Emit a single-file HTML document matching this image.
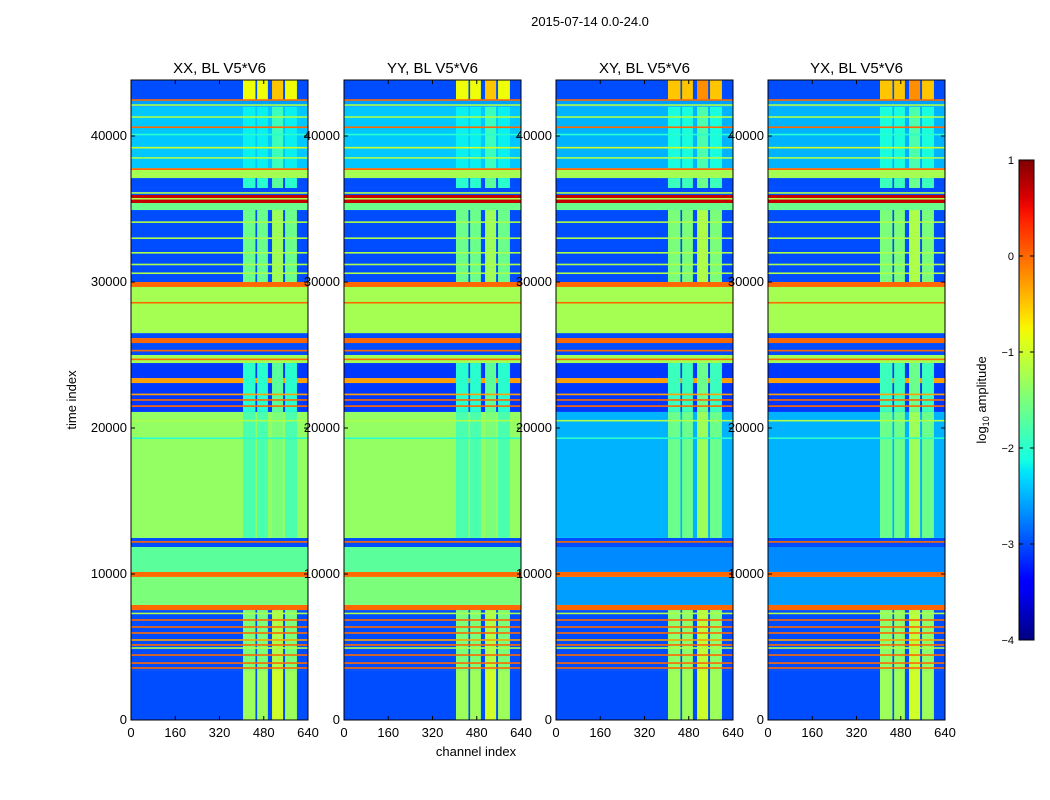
<!DOCTYPE html>
<html><head><meta charset="utf-8">
<style>
body{margin:0;background:#fff;}
svg{display:block;font-family:"Liberation Sans",sans-serif;}
</style></head>
<body>
<svg id="fig" width="1050" height="800" viewBox="0 0 1050 800">
<text x="590" y="26" font-size="13" text-anchor="middle">2015-07-14 0.0-24.0</text>
<text x="476" y="756" font-size="13" text-anchor="middle">channel index</text>
<text x="0" y="0" font-size="13" text-anchor="middle" transform="translate(76,400) rotate(-90)">time index</text>
<g id="panels"></g>
<g id="cbar"></g>
<text x="0" y="0" font-size="13" text-anchor="middle" transform="translate(986,400) rotate(-90)">log<tspan font-size="9" dy="3">10</tspan><tspan dy="-3"> amplitude</tspan></text>
</svg>
<script>
// ---- data ----
const panelTitles = ["XX, BL V5*V6","YY, BL V5*V6","XY, BL V5*V6","YX, BL V5*V6"];
const panelKind = [0,0,1,1]; // 0 = parallel hand, 1 = cross hand
const xTicks = [0,160,320,480,640];
const yTicks = [0,10000,20000,30000,40000];
const cbTicks = [1,0,-1,-2,-3,-4];
// horizontal time bands: start, end, value (parallel), value (cross)
const bandStart = [0,3420,7530,7880,9800,10140,11850,12470,21100,23080,23420,24450,25000,25820,26160,26500,29660,30000,34930,35410,35960,36440,37120,37670,37800,42000,42460];
const bandEnd   = [3420,7530,7880,9800,10140,11850,12470,21100,23080,23420,24450,25000,25820,26160,26500,29660,30000,34930,35410,35960,36440,37120,37670,37800,42000,42460,43800];
const bandPar   = [-3.0,-3.0,0.0,-1.5,0.0,-1.7,-3.0,-1.35,-3.1,-0.3,-3.1,-1.25,-3.0,0.0,-3.0,-1.25,0.0,-3.0,-1.6,0.7,-3.0,-3.0,-1.25,0.0,-2.4,-2.6,-3.0];
const bandCross = [-3.0,-3.0,0.0,-2.6,0.0,-2.7,-3.0,-2.5,-3.1,-0.3,-3.1,-1.25,-3.0,0.0,-3.0,-1.25,0.0,-3.0,-1.6,0.7,-3.0,-3.0,-1.25,0.0,-2.5,-2.6,-3.0];
// thin horizontal lines
const lineTime = [3560,3900,4450,4930,5140,5480,5960,6370,6850,7300,12200,20500,19300,28580,25300,24700,21920,21500,22300,32000,33000,31200,30600,34100,38500,39200,40100,40600,41300,36100,35700,42120,42465];
const lineVal  = [0.0,0.0,0.0,-1.2,0.0,-0.3,0.0,0.0,0.0,-1.2,0.0,-1.2,-2.0,0.0,0.0,0.0,0.0,0.0,-0.3,-1.2,-1.2,-1.2,-1.2,-1.2,-1.2,-1.0,-2.0,0.0,-1.2,-1.2,-1.2,-1.2,0.0];
// RFI channel stripes
const stripeLo = [405,456,510,557];
const stripeHi = [450,495,550,600];
const sT0 = [0,3420,12470,21100,30000,36440,37800,42460];
const sT1 = [3420,7530,21100,24450,34930,37120,42000,43800];
const sPar   = [-1.3,-1.5,-1.8,-2.0,-1.6,-2.0,-2.2,-0.8];
const sCross = [-1.3,-1.4,-1.6,-1.9,-1.5,-1.9,-2.1,-0.5];

// ---- helpers ----
const NS="http://www.w3.org/2000/svg";
function mk(tag,attrs,parent){const e=document.createElementNS(NS,tag);for(const k in attrs)e.setAttribute(k,attrs[k]);parent.appendChild(e);return e;}
function seg(t,pts){for(let i=1;i<pts.length;i++){if(t<=pts[i][0]){const a=pts[i-1],b=pts[i];return a[1]+(b[1]-a[1])*(t-a[0])/(b[0]-a[0]);}}return pts[pts.length-1][1];}
function jet(v){let t=(v+4)/5;t=Math.max(0,Math.min(1,t));
 const r=seg(t,[[0,0],[0.35,0],[0.66,1],[0.89,1],[1,0.5]]);
 const g=seg(t,[[0,0],[0.125,0],[0.375,1],[0.64,1],[0.91,0],[1,0]]);
 const b=seg(t,[[0,0.5],[0.11,1],[0.34,1],[0.65,0],[1,0]]);
 return `rgb(${Math.round(r*255)},${Math.round(g*255)},${Math.round(b*255)})`;}
const lefts=[131,344,556,768], W=177, TOP=80, BOT=720;
const yScale=t=>BOT-(t/10000)*146;
const panelsG=document.getElementById('panels');
lefts.forEach((L,pi)=>{
 const xS=c=>L+c/640*W;
 const g=mk('g',{},panelsG);
 
 
 const cross=panelKind[pi]===1;
 bandStart.forEach((s,i)=>{
  const r=mk('rect',{x:L,width:W,y:yScale(bandEnd[i]),height:yScale(s)-yScale(bandEnd[i]),fill:jet(cross?bandCross[i]:bandPar[i])},g);
  
  
 });
 sT0.forEach((t0,j)=>{
  stripeLo.forEach((lo,k)=>{
   const r=mk('rect',{x:xS(lo),width:xS(stripeHi[k])-xS(lo),y:yScale(sT1[j]),height:yScale(t0)-yScale(sT1[j]),fill:jet((cross?sCross[j]:sPar[j])+(k===2?0.3:0))},g);
   
   
  });
 });
 lineTime.forEach((t,i)=>{
  const r=mk('rect',{x:L,width:W,y:yScale(t)-0.8,height:1.6,fill:jet(lineVal[i])},g);
  
  
 });
 const fr=mk('rect',{x:L,y:TOP,width:W,height:BOT-TOP,fill:'none',stroke:'#000','stroke-width':1},g);
 
 
 const tt=mk('text',{x:L+W/2,y:73,'font-size':15,'text-anchor':'middle'},g);tt.textContent=panelTitles[pi];
 
 
 xTicks.forEach(v=>{const x=xS(v);
  mk('line',{x1:x,x2:x,y1:BOT,y2:BOT-4,stroke:'#000'},g);mk('line',{x1:x,x2:x,y1:TOP,y2:TOP+4,stroke:'#000'},g);
  const t=mk('text',{x:x,y:BOT+17,'font-size':13,'text-anchor':'middle'},g);t.textContent=v;
  
  });
 yTicks.forEach(v=>{const y=yScale(v);
  mk('line',{x1:L,x2:L+4,y1:y,y2:y,stroke:'#000'},g);mk('line',{x1:L+W,x2:L+W-4,y1:y,y2:y,stroke:'#000'},g);
  const t=mk('text',{x:L-4,y:y+4,'font-size':13,'text-anchor':'end'},g);t.textContent=v;
  
  });
});
// colorbar
const cb=document.getElementById('cbar');
const defs=mk('defs',{},cb);const gr=mk('linearGradient',{id:'jg',x1:0,y1:1,x2:0,y2:0},defs);
for(let i=0;i<=40;i++){mk('stop',{offset:i/40,'stop-color':jet(-4+5*i/40)},gr);}
mk('rect',{x:1019,y:160,width:15,height:480,fill:'url(#jg)',stroke:'#000','stroke-width':1},cb);
cbTicks.forEach(v=>{const y=640-(v+4)/5*480;
 mk('line',{x1:1019,x2:1023,y1:y,y2:y,stroke:'#000'},cb);mk('line',{x1:1034,x2:1030,y1:y,y2:y,stroke:'#000'},cb);
 const t=mk('text',{x:1014,y:y+4,'font-size':11,'text-anchor':'end'},cb);t.textContent=(v<0?'\u2212'+(-v):v);
 
 });
</script>
</body></html>
